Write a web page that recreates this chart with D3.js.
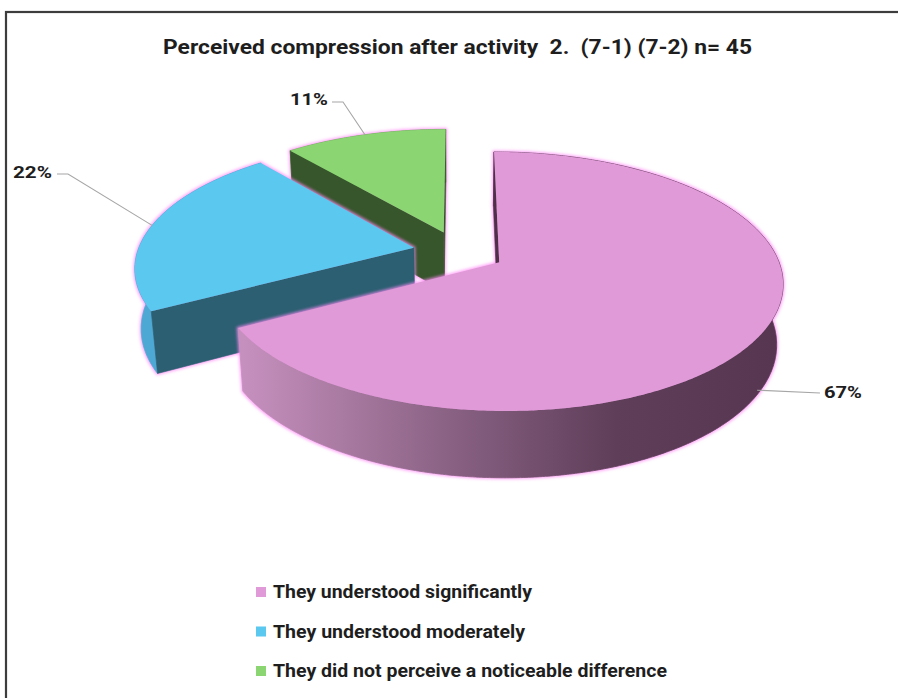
<!DOCTYPE html>
<html>
<head>
<meta charset="utf-8">
<script src="https://cdn.jsdelivr.net/npm/d3@7"></script>
<style>
  html, body { margin: 0; padding: 0; background: #ffffff; overflow: hidden; }
  svg { display: block; }
  text { font-family: "Liberation Sans Narrow", "Roboto", "Noto Sans", sans-serif; font-weight: 700; fill: #1e1e1e; white-space: pre; }
</style>
</head>
<body>
<script>
// ---- data ----
const chartTitle = "Perceived compression after activity  2.  (7-1) (7-2) n= 45";
const categories = [
  "They understood significantly",
  "They understood moderately",
  "They did not perceive a noticeable difference"
];
const values = [67, 22, 11];
const pctLabels = values.map(v => v + "%");
const sliceColors = ["#E09AD7", "#5BC8EF", "#8BD672"];

// ---- styles ----
const radialFaceColors = ["#4F3049", "#2C5F72", "#37562C"];
const outerSideColors = ["url(#pinkSide)", "#4DA9D4", "#6FAF5C"];

const W = 898, H = 698;
const svg = d3.select("body").append("svg").attr("width", W).attr("height", H);

const defs = svg.append("defs");
const glow = defs.append("filter").attr("id", "glow")
  .attr("x", "-10%").attr("y", "-10%").attr("width", "120%").attr("height", "120%")
  .attr("color-interpolation-filters", "sRGB");
glow.append("feMorphology").attr("in", "SourceAlpha").attr("operator", "dilate").attr("radius", 1.3).attr("result", "d");
glow.append("feGaussianBlur").attr("in", "d").attr("stdDeviation", 1.4).attr("result", "b");
glow.append("feFlood").attr("flood-color", "#FF8CF6").attr("flood-opacity", 0.8);
glow.append("feComposite").attr("in2", "b").attr("operator", "in").attr("result", "g");
const merge = glow.append("feMerge");
merge.append("feMergeNode").attr("in", "g");
merge.append("feMergeNode").attr("in", "SourceGraphic");

// frame (open on the right and bottom, running past the page edge)
svg.append("rect").attr("x", 6).attr("y", 12).attr("width", W + 60).attr("height", H + 60)
  .attr("fill", "none").attr("stroke", "#3d3d3d").attr("stroke-width", 2.2);

// title
svg.append("text").attr("x", 163).attr("y", 54)
  .attr("font-size", 21).attr("textLength", 589).attr("lengthAdjust", "spacingAndGlyphs")
  .text(chartTitle);

// ---- 3D projection of the pie ----
const tilt = 28.6 * Math.PI / 180, sinT = Math.sin(tilt), cosT = Math.cos(tilt);
const dist = 6.1, thick = 0.245, explode = 0.167, focal = 1653;
const cx = 459, cy = 311;
const xScale = d3.scaleLinear().domain([0, 1]).range([cx, cx + focal]);
const yScale = d3.scaleLinear().domain([0, 1]).range([cy, cy - focal]);

function project(X, Y, Z) {
  const depth = dist - Z * cosT - Y * sinT;
  const yc = Y * cosT - Z * sinT;
  return [xScale(X / depth), yScale(yc / depth)];
}

const arcs = d3.pie().sort(null).value(d => d)(values);
arcs.forEach((a, i) => {
  const mid = (a.startAngle + a.endAngle) / 2;
  a.mid = mid;
  a.i = i;
  a.ox = explode * Math.sin(mid);
  a.oz = -explode * Math.cos(mid);
});

const rim = (a, ang, Y) => project(a.ox + Math.sin(ang), Y, a.oz - Math.cos(ang));
const apex = (a, Y) => project(a.ox, Y, a.oz);
const arcPts = (a, a0, a1, Y) => {
  const n = Math.max(8, Math.ceil(Math.abs(a1 - a0) / (Math.PI / 360)));
  return d3.range(n + 1).map(k => rim(a, a0 + (a1 - a0) * k / n, Y));
};
const poly = d3.line();

// gradient on the pink outer side
{
  const a = arcs[0];
  const pts = arcPts(a, a.startAngle, a.endAngle, 0);
  const xs = pts.map(p => p[0]);
  const g = defs.append("linearGradient").attr("id", "pinkSide")
    .attr("gradientUnits", "userSpaceOnUse")
    .attr("x1", d3.min(xs)).attr("x2", d3.max(xs)).attr("y1", 0).attr("y2", 0);
  [[0, "#C690BE"], [0.37, "#8C6486"], [0.7, "#5E3E59"], [1, "#573652"]].forEach(([o, c]) =>
    g.append("stop").attr("offset", o).attr("stop-color", c));
}

const camXZ = [0, dist * cosT];
const faceVisible = (a, normalAng) => {
  const nx = Math.sin(normalAng), nz = -Math.cos(normalAng);
  return nx * (camXZ[0] - a.ox) + nz * (camXZ[1] - a.oz) > 0;
};

// draw far slices first
const order = arcs.slice().sort((p, q) => p.oz - q.oz);
const pieG = svg.append("g");
order.forEach(a => {
  const g = pieG.append("g").attr("filter", "url(#glow)");
  // outer curved side
  const top = arcPts(a, a.startAngle, a.endAngle, thick);
  const bot = arcPts(a, a.startAngle, a.endAngle, 0).reverse();
  g.append("path").attr("d", poly(top.concat(bot)) + "Z")
    .attr("fill", outerSideColors[a.i]).attr("stroke", outerSideColors[a.i])
    .attr("stroke-width", 0.8).attr("stroke-linejoin", "round");
  // radial faces
  [[a.startAngle, a.startAngle - Math.PI / 2], [a.endAngle, a.endAngle + Math.PI / 2]].forEach(([ang, nAng]) => {
    if (!faceVisible(a, nAng)) return;
    const q = [apex(a, thick), rim(a, ang, thick), rim(a, ang, 0), apex(a, 0)];
    g.append("path").attr("d", poly(q) + "Z").attr("fill", radialFaceColors[a.i])
      .attr("stroke", radialFaceColors[a.i]).attr("stroke-width", 0.6);
  });
  // top face
  g.append("path").attr("d", poly([apex(a, thick)].concat(top)) + "Z").attr("fill", sliceColors[a.i]);
});

// ---- data labels with leader lines ----
const labelLayout = [
  { elbow: [820, 393], end: [820, 393], tx: 824, ty: 398, anchor: "start", len: 38 },
  { elbow: [68, 174],  end: [57, 174],  tx: 52,  ty: 178, anchor: "end",   len: 39 },
  { elbow: [343, 102], end: [332, 102], tx: 328, ty: 105, anchor: "end",   len: 38 }
];
arcs.forEach(a => {
  const front = -Math.cos(a.mid) > 0;
  const p = rim(a, a.mid, front ? 0.02 : thick);
  const L = labelLayout[a.i];
  svg.append("path").attr("d", poly([p, L.elbow, L.end]))
    .attr("fill", "none").attr("stroke", "#A6A6A6").attr("stroke-width", 1.1);
  svg.append("text").attr("x", L.anchor === "end" ? L.tx - L.len : L.tx).attr("y", L.ty)
    .attr("font-size", 17).attr("textLength", L.len).attr("lengthAdjust", "spacingAndGlyphs")
    .text(pctLabels[a.i]);
});

// ---- legend ----
const legendText = [259, 252, 394];
const legendY = d3.scalePoint().domain(categories).range([592, 671]);
const lg = svg.append("g");
categories.forEach((c, i) => {
  const y = legendY(c);
  lg.append("rect").attr("x", 256).attr("y", y - 5).attr("width", 10).attr("height", 10).attr("fill", sliceColors[i]);
  lg.append("text").attr("x", 273).attr("y", y + 6)
    .attr("font-size", 18).attr("textLength", legendText[i]).attr("lengthAdjust", "spacingAndGlyphs")
    .text(c);
});
</script>
</body>
</html>
